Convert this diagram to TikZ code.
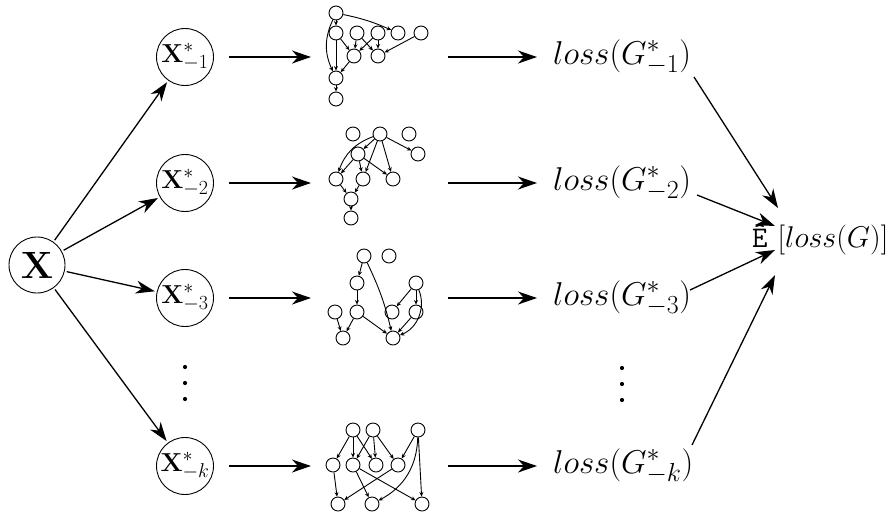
\RequirePackage{fix-cm}
\documentclass[tikz,border=0pt]{standalone}
\DeclareMathSizes{26}{26}{20}{15}
\DeclareMathSizes{33}{33}{26}{19}
\DeclareMathSizes{30}{30}{21}{15}
\DeclareMathSizes{38}{38}{27}{19}
\usetikzlibrary{arrows.meta}
\begin{document}
\begin{tikzpicture}[x=1pt,y=-1pt,
  big/.style={line width=1.3pt,-{Stealth[length=19pt,width=13pt,inset=6pt]}},
  sm/.style={line width=0.9pt,-{Stealth[length=4.5pt,width=4pt]}},
  v/.style={circle,draw,line width=0.9pt,minimum size=14pt,inner sep=0pt},
  xs/.style={circle,draw,line width=0.9pt,minimum size=57pt,inner sep=0pt,font=\fontsize{26}{30}\selectfont},
  lab/.style={inner sep=0pt,font=\fontsize{33}{38}\selectfont}]
\useasboundingbox (0,0) rectangle (888,523);

% left column
\node[xs,minimum size=56pt,font=\fontsize{38}{42}\selectfont] (X) at (37,265) {$\mathbf{X}$};
\node[xs] (x1) at (185,57) {$\mathbf{X}^*_{-1}$};
\node[xs] (x2) at (185,183) {$\mathbf{X}^*_{-2}$};
\node[xs] (x3) at (185,298) {$\mathbf{X}^*_{-3}$};
\node[xs] (x4) at (185,466) {$\mathbf{X}^*_{-k}$};
\foreach \yy in {367,383,399} \fill (185,\yy) circle (2.1);
\foreach \yy in {368,384,400} \fill (622,\yy) circle (2.1);

\foreach \i in {1,2,3,4} \draw[big,shorten <=2pt,shorten >=2pt] (X) -- (x\i);

% graph entry/exit coordinates
\coordinate (i1) at (311,57);  \coordinate (o1) at (448,57);
\coordinate (i2) at (311,183); \coordinate (o2) at (448,183);
\coordinate (i3) at (311,298); \coordinate (o3) at (448,298);
\coordinate (i4) at (311,466); \coordinate (o4) at (448,466);

% loss labels
\node[lab,anchor=west] (l1) at (553,57) {$loss(G^*_{-1})$};
\node[lab,anchor=west] (l2) at (553,183) {$loss(G^*_{-2})$};
\node[lab,anchor=west] (l3) at (553,298) {$loss(G^*_{-3})$};
\node[lab,anchor=west] (l4) at (553,466) {$loss(G^*_{-k})$};
\node[lab,anchor=west,font=\fontsize{30}{36}\selectfont] (E) at (752,240) {$\mbox{\ttfamily Ê}\,\left[loss(G)\right]$};

\foreach \i in {1,2,3,4} {
  \draw[big,shorten <=15pt] (x\i.east) -- (i\i);
  \draw[big,shorten >=16pt] (o\i) -- (l\i.west);
}
\coordinate (s1) at (694,77);
\coordinate (s2) at (697,195);
\coordinate (s3) at (690,290);
\coordinate (s4) at (692,445);
\draw[big] (s1) -- ([shift={(26,-32)}]E.west);
\draw[big] (s2) -- ([shift={(23,-14)}]E.west);
\draw[big] (s3) -- ([shift={(23,10)}]E.west);
\draw[big] (s4) -- ([shift={(23,35)}]E.west);

% graph 1
\node[v] (ga1) at (336,13) {};
\node[v] (gb1) at (336,33) {};
\node[v] (gc1) at (357,33) {};
\node[v] (gd1) at (378,33) {};
\node[v] (ge1) at (398,33) {};
\node[v] (gf1) at (421,33) {};
\node[v] (gg1) at (354,56) {};
\node[v] (gh1) at (378,56) {};
\node[v] (gi1) at (336,78) {};
\node[v] (gj1) at (336,99) {};
\draw[sm] (ga1) -- (gb1);
\draw[sm] (ga1) to[bend left=6] (ge1);
\draw[sm] (ga1) to[bend right=25] (gi1);
\draw[sm] (gb1) -- (gi1);
\draw[sm] (gb1) -- (gg1);
\draw[sm] (gc1) -- (gg1);
\draw[sm] (gc1) -- (gh1);
\draw[sm] (gd1) -- (gg1);
\draw[sm] (gd1) -- (gh1);
\draw[sm] (gf1) -- (gh1);
\draw[sm] (gg1) -- (gi1);
\draw[sm] (gi1) -- (gj1);

% graph 2
\node[v] (ga2) at (353,134) {};
\node[v] (gb2) at (380,134) {};
\node[v] (gc2) at (409,134) {};
\node[v] (gd2) at (418,154) {};
\node[v] (ge2) at (358,154) {};
\node[v] (gf2) at (336,179) {};
\node[v] (gg2) at (363,179) {};
\node[v] (gh2) at (393,179) {};
\node[v] (gi2) at (351,199) {};
\node[v] (gj2) at (351,218) {};
\draw[sm] (gb2) -- (ge2);
\draw[sm] (gb2) -- (gd2);
\draw[sm] (gb2) to[bend right=25] (gf2);
\draw[sm] (gb2) -- (gg2);
\draw[sm] (gb2) -- (gh2);
\draw[sm] (ge2) -- (gf2);
\draw[sm] (ge2) -- (gg2);
\draw[sm] (ge2) -- (gh2);
\draw[sm] (gf2) -- (gi2);
\draw[sm] (gg2) -- (gi2);
\draw[sm] (gi2) -- (gj2);

% graph 3
\node[v] (ga3) at (364,256) {};
\node[v] (gb3) at (389,256) {};
\node[v] (gc3) at (357,283) {};
\node[v] (gd3) at (416,283) {};
\node[v] (ge3) at (335,312) {};
\node[v] (gf3) at (357,312) {};
\node[v] (gg3) at (392,312) {};
\node[v] (gh3) at (416,312) {};
\node[v] (gi3) at (343,338) {};
\node[v] (gk3) at (393,338) {};
\draw[sm] (ga3) -- (gc3);
\draw[sm] (ga3) to[bend left=6] (gk3);
\draw[sm] (gc3) -- (gf3);
\draw[sm] (ge3) -- (gi3);
\draw[sm] (gf3) -- (gi3);
\draw[sm] (gf3) -- (gk3);
\draw[sm] (gd3) -- (gg3);
\draw[sm] (gd3) -- (gh3);
\draw[sm] (gd3) to[bend left=45] (gk3);
\draw[sm] (gh3) -- (gk3);

% graph 4
\node[v] (ga4) at (353,430) {};
\node[v] (gb4) at (373,430) {};
\node[v] (gc4) at (418,430) {};
\node[v] (gd4) at (333,465) {};
\node[v] (ge4) at (353,465) {};
\node[v] (gf4) at (376,465) {};
\node[v] (gg4) at (398,465) {};
\node[v] (gh4) at (338,504) {};
\node[v] (gi4) at (372,504) {};
\node[v] (gj4) at (422,504) {};
\draw[sm] (ga4) -- (gd4);
\draw[sm] (ga4) -- (ge4);
\draw[sm] (ga4) -- (gf4);
\draw[sm] (gb4) -- (ge4);
\draw[sm] (gb4) -- (gf4);
\draw[sm] (gb4) -- (gg4);
\draw[sm] (gc4) -- (gg4);
\draw[sm] (gc4) to[bend left=30] (gi4);
\draw[sm] (gc4) -- (gj4);
\draw[sm] (gd4) -- (gh4);
\draw[sm] (ge4) -- (gi4);
\draw[sm] (ge4) -- (gj4);
\draw[sm] (gg4) -- (gh4);
\end{tikzpicture}
\end{document}
